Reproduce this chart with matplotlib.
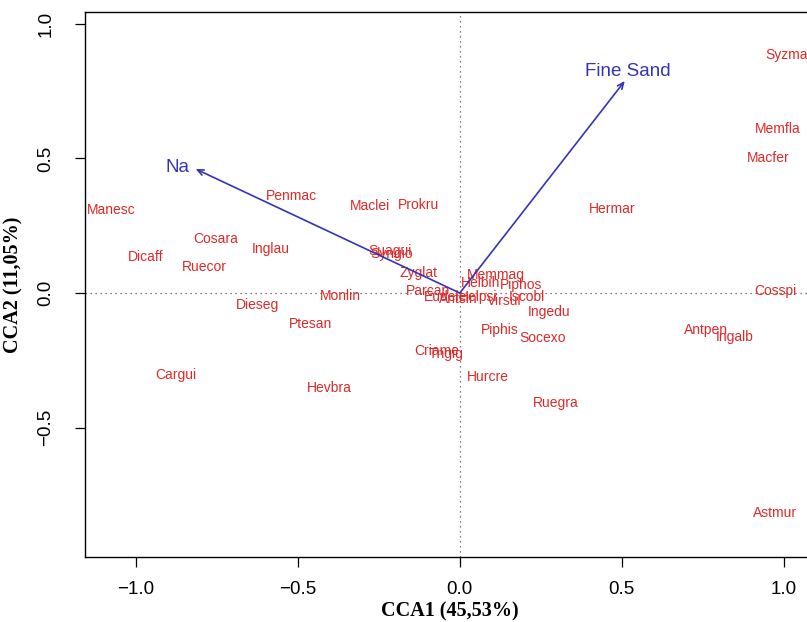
import matplotlib as mpl
mpl.use('Agg')
import matplotlib.pyplot as plt

# species scores (CCA1, CCA2)
species = ['Syzmac', 'Memfla', 'Macfer', 'Hermar', 'Cosspi', 'Antpen', 'Ingalb',
           'Astmur', 'Ruegra', 'Hurcre', 'Socexo', 'Piphis', 'Ingedu', 'Memmag',
           'Helbih', 'Piphos', 'Iscobl', 'Helpsi', 'Virsul', 'Antsin', 'Eudele',
           'Parcap', 'Zyglat', 'Suagui', 'Syngio', 'Maclei', 'Prokru', 'Penmac',
           'Manesc', 'Cosara', 'Inglau', 'Dicaff', 'Ruecor', 'Monlin', 'Dieseg',
           'Ptesan', 'Cargui', 'Hevbra', 'Criame', 'Tngig']
cca1 = [1.020, 0.981, 0.951, 0.469, 0.975, 0.759, 0.849,
        0.972, 0.296, 0.086, 0.256, 0.123, 0.275, 0.111,
        0.065, 0.188, 0.207, 0.056, 0.136, -0.006, -0.045,
        -0.099, -0.127, -0.216, -0.210, -0.278, -0.127, -0.519,
        -1.074, -0.753, -0.583, -0.969, -0.787, -0.367, -0.623,
        -0.460, -0.877, -0.404, -0.071, -0.043]
cca2 = [0.885, 0.610, 0.502, 0.312, 0.007, -0.138, -0.164,
        -0.818, -0.409, -0.312, -0.167, -0.138, -0.071, 0.067,
        0.037, 0.030, -0.015, -0.015, -0.030, -0.022, -0.015,
        0.007, 0.074, 0.156, 0.145, 0.323, 0.327, 0.361,
        0.309, 0.201, 0.164, 0.134, 0.097, -0.011, -0.045,
        -0.115, -0.305, -0.353, -0.216, -0.227]

# environmental vectors
env = ['Na', 'Fine Sand']
env_x = [-0.815, 0.509]
env_y = [0.461, 0.788]
env_lab_x = [-0.870, 0.519]
env_lab_y = [0.465, 0.825]

plt.rcParams['font.family'] = ['Liberation Sans', 'DejaVu Sans']

fig = plt.figure(figsize=(8.07, 6.22), dpi=100)
ax = fig.add_axes([0.105, 0.1045, 0.905, 0.8765])
ax.set_xlim(-1.157, 1.096)
ax.set_ylim(-0.981, 1.045)

ax.axhline(0, color='#555555', lw=0.9, ls=(0, (1, 3)))
ax.axvline(0, color='#555555', lw=0.9, ls=(0, (1, 3)))

for name, x, y in zip(species, cca1, cca2):
    ax.text(x, y, name, color='#e02828', fontsize=10, ha='center', va='center')

for name, x, y, lx, ly in zip(env, env_x, env_y, env_lab_x, env_lab_y):
    ax.annotate('', xy=(x, y), xytext=(0, 0),
                arrowprops=dict(arrowstyle='->,head_length=0.45,head_width=0.2',
                                color='#3434b4', lw=1.2, shrinkA=0, shrinkB=0))
    ax.text(lx, ly, name, color='#3434b4', fontsize=13.5, ha='center', va='center')

ax.set_xticks([-1.0, -0.5, 0.0, 0.5, 1.0])
ax.set_yticks([-0.5, 0.0, 0.5, 1.0])
ax.set_xticklabels(['\u22121.0', '\u22120.5', '0.0', '0.5', '1.0'])
ax.set_yticklabels(['\u22120.5', '0.0', '0.5', '1.0'], rotation=90, va='center')
ax.tick_params(labelsize=13.5, length=7, width=0.9)
ax.tick_params(axis='x', pad=10)
ax.tick_params(axis='y', pad=15)
for s in ax.spines.values():
    s.set_linewidth(1.0)

ax.set_xlabel('CCA1 (45,53%)', family='Liberation Serif', fontweight='bold',
              fontsize=14.5, labelpad=3)
ax.set_ylabel('CCA2 (11,05%)', family='Liberation Serif', fontweight='bold',
              fontsize=14.5, labelpad=10)

fig.savefig('out.png', dpi=100)
